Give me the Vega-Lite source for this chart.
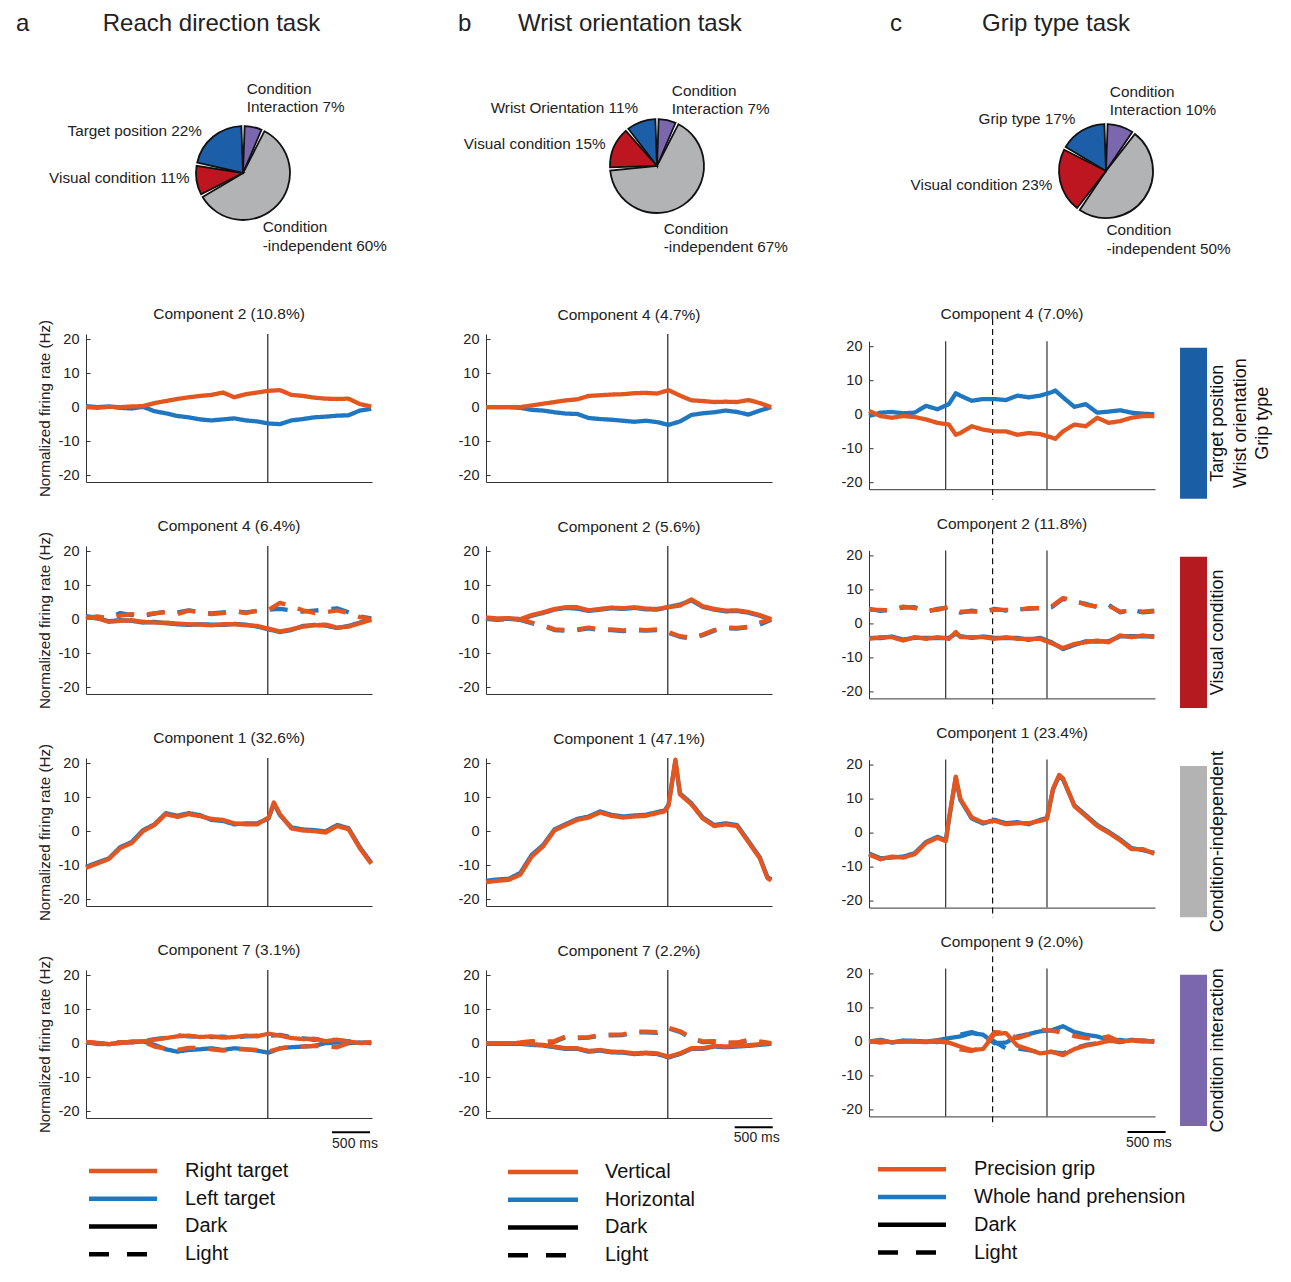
{
"$schema": "https://vega.github.io/schema/vega-lite/v6.json",
"padding": {"left": 16, "top": 12, "right": 5, "bottom": 5},
"background": "white",
"spacing": 46,
"resolve": {"scale": {"color": "independent", "strokeDash": "independent"}},
"config": {
 "font": "Liberation Sans",
 "view": {"stroke": null},
 "axis": {"grid": false, "domainColor": "#333333", "domainWidth": 1, "tickColor": "#333333", "labelColor": "#222222", "labelFontSize": 14.5, "labelFont": "Liberation Sans", "titleFont": "Liberation Sans", "titleFontSize": 15.2, "titleFontWeight": "normal", "titleColor": "#222222"},
 "axisX": {"labels": false, "ticks": false},
 "axisY": {"tickSize": -4, "labelPadding": 11, "titlePadding": 6},
 "line": {"strokeJoin": "round"},
 "title": {"font": "Liberation Sans", "fontWeight": "normal", "color": "#222222"},
 "text": {"font": "Liberation Sans"}
},
"datasets": {
"a1": [
{"s":"BD","t":0,"v":0.3},{"s":"BD","t":150,"v":0},{"s":"BD","t":300,"v":0.2},{"s":"BD","t":450,"v":-0.2},{"s":"BD","t":600,"v":-0.4},{"s":"BD","t":750,"v":0.1},{"s":"BD","t":900,"v":-1.2},{"s":"BD","t":1050,"v":-1.8},{"s":"BD","t":1200,"v":-2.6},{"s":"BD","t":1350,"v":-3.0},{"s":"BD","t":1500,"v":-3.6},{"s":"BD","t":1650,"v":-3.9},{"s":"BD","t":1800,"v":-3.6},{"s":"BD","t":1950,"v":-3.3},{"s":"BD","t":2100,"v":-3.9},{"s":"BD","t":2250,"v":-4.2},{"s":"BD","t":2400,"v":-4.8},{"s":"BD","t":2550,"v":-5.0},{"s":"BD","t":2700,"v":-3.9},{"s":"BD","t":2850,"v":-3.5},{"s":"BD","t":3000,"v":-3.0},{"s":"BD","t":3150,"v":-2.8},{"s":"BD","t":3300,"v":-2.5},{"s":"BD","t":3450,"v":-2.4},{"s":"BD","t":3600,"v":-1.0},{"s":"BD","t":3750,"v":-0.5},
{"s":"AD","t":0,"v":0},{"s":"AD","t":150,"v":-0.2},{"s":"AD","t":300,"v":0.1},{"s":"AD","t":450,"v":0},{"s":"AD","t":600,"v":0.2},{"s":"AD","t":750,"v":0.3},{"s":"AD","t":900,"v":1.2},{"s":"AD","t":1050,"v":1.8},{"s":"AD","t":1200,"v":2.4},{"s":"AD","t":1350,"v":2.9},{"s":"AD","t":1500,"v":3.3},{"s":"AD","t":1650,"v":3.6},{"s":"AD","t":1800,"v":4.3},{"s":"AD","t":1950,"v":2.9},{"s":"AD","t":2100,"v":3.8},{"s":"AD","t":2250,"v":4.3},{"s":"AD","t":2400,"v":4.8},{"s":"AD","t":2550,"v":5.0},{"s":"AD","t":2700,"v":3.6},{"s":"AD","t":2850,"v":3.3},{"s":"AD","t":3000,"v":2.8},{"s":"AD","t":3150,"v":2.5},{"s":"AD","t":3300,"v":2.4},{"s":"AD","t":3450,"v":2.5},{"s":"AD","t":3600,"v":0.9},{"s":"AD","t":3750,"v":0.2}
],
"a2": [
{"s":"BD","t":0,"v":0.8},{"s":"BD","t":150,"v":0.2},{"s":"BD","t":300,"v":-0.6},{"s":"BD","t":450,"v":-0.3},{"s":"BD","t":600,"v":-0.5},{"s":"BD","t":750,"v":-1.0},{"s":"BD","t":900,"v":-0.8},{"s":"BD","t":1050,"v":-1.2},{"s":"BD","t":1200,"v":-1.5},{"s":"BD","t":1350,"v":-1.7},{"s":"BD","t":1500,"v":-1.5},{"s":"BD","t":1650,"v":-1.6},{"s":"BD","t":1800,"v":-1.7},{"s":"BD","t":1950,"v":-1.4},{"s":"BD","t":2100,"v":-1.6},{"s":"BD","t":2250,"v":-2.2},{"s":"BD","t":2400,"v":-3.0},{"s":"BD","t":2550,"v":-3.8},{"s":"BD","t":2700,"v":-3.2},{"s":"BD","t":2850,"v":-2.0},{"s":"BD","t":3000,"v":-1.7},{"s":"BD","t":3150,"v":-1.9},{"s":"BD","t":3300,"v":-2.6},{"s":"BD","t":3450,"v":-2.0},{"s":"BD","t":3600,"v":-1.0},{"s":"BD","t":3750,"v":0},
{"s":"BL","t":0,"v":0.8},{"s":"BL","t":150,"v":0.5},{"s":"BL","t":300,"v":0.4},{"s":"BL","t":450,"v":1.8},{"s":"BL","t":600,"v":1.2},{"s":"BL","t":750,"v":1.0},{"s":"BL","t":900,"v":1.6},{"s":"BL","t":1050,"v":2.2},{"s":"BL","t":1200,"v":2.0},{"s":"BL","t":1350,"v":2.6},{"s":"BL","t":1500,"v":2.0},{"s":"BL","t":1650,"v":1.7},{"s":"BL","t":1800,"v":2.0},{"s":"BL","t":1950,"v":2.3},{"s":"BL","t":2100,"v":2.0},{"s":"BL","t":2250,"v":2.4},{"s":"BL","t":2400,"v":2.8},{"s":"BL","t":2550,"v":3.0},{"s":"BL","t":2700,"v":2.6},{"s":"BL","t":2850,"v":2.2},{"s":"BL","t":3000,"v":2.5},{"s":"BL","t":3150,"v":2.8},{"s":"BL","t":3300,"v":3.2},{"s":"BL","t":3450,"v":2.0},{"s":"BL","t":3600,"v":0.8},{"s":"BL","t":3750,"v":0.2},
{"s":"AD","t":0,"v":0.5},{"s":"AD","t":150,"v":0.3},{"s":"AD","t":300,"v":-0.8},{"s":"AD","t":450,"v":-0.5},{"s":"AD","t":600,"v":-0.3},{"s":"AD","t":750,"v":-0.8},{"s":"AD","t":900,"v":-1.0},{"s":"AD","t":1050,"v":-1.0},{"s":"AD","t":1200,"v":-1.3},{"s":"AD","t":1350,"v":-1.5},{"s":"AD","t":1500,"v":-1.6},{"s":"AD","t":1650,"v":-1.8},{"s":"AD","t":1800,"v":-1.5},{"s":"AD","t":1950,"v":-1.5},{"s":"AD","t":2100,"v":-1.8},{"s":"AD","t":2250,"v":-2.0},{"s":"AD","t":2400,"v":-2.8},{"s":"AD","t":2550,"v":-3.6},{"s":"AD","t":2700,"v":-3.0},{"s":"AD","t":2850,"v":-2.2},{"s":"AD","t":3000,"v":-1.8},{"s":"AD","t":3150,"v":-1.6},{"s":"AD","t":3300,"v":-2.5},{"s":"AD","t":3450,"v":-2.2},{"s":"AD","t":3600,"v":-1.2},{"s":"AD","t":3750,"v":-0.2},
{"s":"AL","t":0,"v":0.3},{"s":"AL","t":150,"v":0.8},{"s":"AL","t":300,"v":0.2},{"s":"AL","t":450,"v":1.0},{"s":"AL","t":600,"v":1.5},{"s":"AL","t":750,"v":1.2},{"s":"AL","t":900,"v":1.8},{"s":"AL","t":1050,"v":2.0},{"s":"AL","t":1200,"v":1.5},{"s":"AL","t":1350,"v":2.5},{"s":"AL","t":1500,"v":2.0},{"s":"AL","t":1650,"v":1.5},{"s":"AL","t":1800,"v":1.8},{"s":"AL","t":1950,"v":2.2},{"s":"AL","t":2100,"v":1.8},{"s":"AL","t":2250,"v":2.5},{"s":"AL","t":2400,"v":2.7},{"s":"AL","t":2550,"v":4.8},{"s":"AL","t":2700,"v":3.8},{"s":"AL","t":2850,"v":2.6},{"s":"AL","t":3000,"v":1.8},{"s":"AL","t":3150,"v":2.0},{"s":"AL","t":3300,"v":2.6},{"s":"AL","t":3450,"v":1.8},{"s":"AL","t":3600,"v":0.6},{"s":"AL","t":3750,"v":0}
],
"a3": [
{"s":"BD","t":0,"v":-10.5},{"s":"BD","t":150,"v":-9.2},{"s":"BD","t":300,"v":-8.0},{"s":"BD","t":450,"v":-4.7},{"s":"BD","t":600,"v":-3.2},{"s":"BD","t":750,"v":0.3},{"s":"BD","t":900,"v":2.0},{"s":"BD","t":1050,"v":5.3},{"s":"BD","t":1200,"v":4.5},{"s":"BD","t":1350,"v":5.3},{"s":"BD","t":1500,"v":4.7},{"s":"BD","t":1650,"v":3.3},{"s":"BD","t":1800,"v":3.0},{"s":"BD","t":1950,"v":2.0},{"s":"BD","t":2100,"v":2.3},{"s":"BD","t":2250,"v":2.3},{"s":"BD","t":2400,"v":3.7},{"s":"BD","t":2470,"v":8.1},{"s":"BD","t":2550,"v":4.7},{"s":"BD","t":2700,"v":1.1},{"s":"BD","t":2850,"v":0.5},{"s":"BD","t":3000,"v":0.3},{"s":"BD","t":3150,"v":-0.1},{"s":"BD","t":3300,"v":1.8},{"s":"BD","t":3450,"v":0.9},{"s":"BD","t":3600,"v":-4.7},{"s":"BD","t":3750,"v":-9.3},
{"s":"AD","t":0,"v":-10.8},{"s":"AD","t":150,"v":-9.5},{"s":"AD","t":300,"v":-8.2},{"s":"AD","t":450,"v":-5.0},{"s":"AD","t":600,"v":-3.5},{"s":"AD","t":750,"v":0.0},{"s":"AD","t":900,"v":1.8},{"s":"AD","t":1050,"v":5.0},{"s":"AD","t":1200,"v":4.2},{"s":"AD","t":1350,"v":5.0},{"s":"AD","t":1500,"v":4.4},{"s":"AD","t":1650,"v":3.6},{"s":"AD","t":1800,"v":3.3},{"s":"AD","t":1950,"v":2.3},{"s":"AD","t":2100,"v":2.0},{"s":"AD","t":2250,"v":2.0},{"s":"AD","t":2400,"v":4.0},{"s":"AD","t":2470,"v":8.4},{"s":"AD","t":2550,"v":5.0},{"s":"AD","t":2700,"v":0.8},{"s":"AD","t":2850,"v":0.2},{"s":"AD","t":3000,"v":0.0},{"s":"AD","t":3150,"v":-0.4},{"s":"AD","t":3300,"v":1.5},{"s":"AD","t":3450,"v":0.6},{"s":"AD","t":3600,"v":-5.0},{"s":"AD","t":3750,"v":-9.6}
],
"a4": [
{"s":"BD","t":0,"v":0.2},{"s":"BD","t":150,"v":0},{"s":"BD","t":300,"v":-0.3},{"s":"BD","t":450,"v":0.2},{"s":"BD","t":600,"v":0.3},{"s":"BD","t":750,"v":0.5},{"s":"BD","t":900,"v":-0.5},{"s":"BD","t":1050,"v":-1.8},{"s":"BD","t":1200,"v":-2.5},{"s":"BD","t":1350,"v":-2.0},{"s":"BD","t":1500,"v":-1.8},{"s":"BD","t":1650,"v":-1.5},{"s":"BD","t":1800,"v":-2.0},{"s":"BD","t":1950,"v":-1.5},{"s":"BD","t":2100,"v":-1.8},{"s":"BD","t":2250,"v":-2.2},{"s":"BD","t":2400,"v":-2.8},{"s":"BD","t":2550,"v":-1.5},{"s":"BD","t":2700,"v":-1.2},{"s":"BD","t":2850,"v":-1.0},{"s":"BD","t":3000,"v":-0.8},{"s":"BD","t":3150,"v":0},{"s":"BD","t":3300,"v":0.2},{"s":"BD","t":3450,"v":0},{"s":"BD","t":3600,"v":0.2},{"s":"BD","t":3750,"v":0},
{"s":"BL","t":0,"v":0.2},{"s":"BL","t":150,"v":-0.2},{"s":"BL","t":300,"v":-0.4},{"s":"BL","t":450,"v":0.2},{"s":"BL","t":600,"v":0.3},{"s":"BL","t":750,"v":0.6},{"s":"BL","t":900,"v":1.2},{"s":"BL","t":1050,"v":1.6},{"s":"BL","t":1200,"v":2.3},{"s":"BL","t":1350,"v":2.0},{"s":"BL","t":1500,"v":1.9},{"s":"BL","t":1650,"v":1.8},{"s":"BL","t":1800,"v":1.9},{"s":"BL","t":1950,"v":1.6},{"s":"BL","t":2100,"v":2.0},{"s":"BL","t":2250,"v":2.2},{"s":"BL","t":2400,"v":2.2},{"s":"BL","t":2550,"v":2.4},{"s":"BL","t":2700,"v":1.8},{"s":"BL","t":2850,"v":1.4},{"s":"BL","t":3000,"v":1.0},{"s":"BL","t":3150,"v":1.4},{"s":"BL","t":3300,"v":0.8},{"s":"BL","t":3450,"v":0.6},{"s":"BL","t":3600,"v":0.2},{"s":"BL","t":3750,"v":0},
{"s":"AD","t":0,"v":0.3},{"s":"AD","t":150,"v":0},{"s":"AD","t":300,"v":-0.3},{"s":"AD","t":450,"v":0},{"s":"AD","t":600,"v":0.5},{"s":"AD","t":750,"v":0.5},{"s":"AD","t":900,"v":1.0},{"s":"AD","t":1050,"v":1.5},{"s":"AD","t":1200,"v":2.0},{"s":"AD","t":1350,"v":2.2},{"s":"AD","t":1500,"v":1.8},{"s":"AD","t":1650,"v":2.0},{"s":"AD","t":1800,"v":1.6},{"s":"AD","t":1950,"v":1.8},{"s":"AD","t":2100,"v":2.2},{"s":"AD","t":2250,"v":2.0},{"s":"AD","t":2400,"v":2.8},{"s":"AD","t":2550,"v":2.2},{"s":"AD","t":2700,"v":1.5},{"s":"AD","t":2850,"v":1.2},{"s":"AD","t":3000,"v":1.3},{"s":"AD","t":3150,"v":0.6},{"s":"AD","t":3300,"v":1.0},{"s":"AD","t":3450,"v":0.5},{"s":"AD","t":3600,"v":0},{"s":"AD","t":3750,"v":0.3},
{"s":"AL","t":0,"v":0.4},{"s":"AL","t":150,"v":0.1},{"s":"AL","t":300,"v":-0.2},{"s":"AL","t":450,"v":0.3},{"s":"AL","t":600,"v":0.2},{"s":"AL","t":750,"v":0.4},{"s":"AL","t":900,"v":-1.0},{"s":"AL","t":1050,"v":-1.6},{"s":"AL","t":1200,"v":-2.0},{"s":"AL","t":1350,"v":-1.4},{"s":"AL","t":1500,"v":-1.4},{"s":"AL","t":1650,"v":-1.8},{"s":"AL","t":1800,"v":-2.2},{"s":"AL","t":1950,"v":-1.8},{"s":"AL","t":2100,"v":-1.8},{"s":"AL","t":2250,"v":-2.0},{"s":"AL","t":2400,"v":-2.4},{"s":"AL","t":2550,"v":-1.6},{"s":"AL","t":2700,"v":-1.0},{"s":"AL","t":2850,"v":-1.0},{"s":"AL","t":3000,"v":-0.8},{"s":"AL","t":3150,"v":-1.0},{"s":"AL","t":3300,"v":-1.2},{"s":"AL","t":3450,"v":0},{"s":"AL","t":3600,"v":0},{"s":"AL","t":3750,"v":0.2}
],
"b1": [
{"s":"BD","t":0,"v":0},{"s":"BD","t":150,"v":0},{"s":"BD","t":300,"v":0},{"s":"BD","t":450,"v":-0.2},{"s":"BD","t":600,"v":-0.8},{"s":"BD","t":750,"v":-1.0},{"s":"BD","t":900,"v":-1.5},{"s":"BD","t":1050,"v":-1.9},{"s":"BD","t":1200,"v":-2.0},{"s":"BD","t":1350,"v":-3.2},{"s":"BD","t":1500,"v":-3.5},{"s":"BD","t":1650,"v":-3.7},{"s":"BD","t":1800,"v":-4.0},{"s":"BD","t":1950,"v":-4.3},{"s":"BD","t":2100,"v":-4.0},{"s":"BD","t":2250,"v":-4.4},{"s":"BD","t":2400,"v":-5.2},{"s":"BD","t":2550,"v":-4.2},{"s":"BD","t":2700,"v":-2.3},{"s":"BD","t":2850,"v":-1.8},{"s":"BD","t":3000,"v":-1.5},{"s":"BD","t":3150,"v":-1.0},{"s":"BD","t":3300,"v":-1.4},{"s":"BD","t":3450,"v":-2.2},{"s":"BD","t":3600,"v":-1.0},{"s":"BD","t":3750,"v":0},
{"s":"AD","t":0,"v":0},{"s":"AD","t":150,"v":0},{"s":"AD","t":300,"v":0},{"s":"AD","t":450,"v":0},{"s":"AD","t":600,"v":0.5},{"s":"AD","t":750,"v":1.0},{"s":"AD","t":900,"v":1.5},{"s":"AD","t":1050,"v":2.0},{"s":"AD","t":1200,"v":2.3},{"s":"AD","t":1350,"v":3.3},{"s":"AD","t":1500,"v":3.5},{"s":"AD","t":1650,"v":3.7},{"s":"AD","t":1800,"v":3.8},{"s":"AD","t":1950,"v":4.1},{"s":"AD","t":2100,"v":4.2},{"s":"AD","t":2250,"v":4.0},{"s":"AD","t":2400,"v":5.0},{"s":"AD","t":2550,"v":3.4},{"s":"AD","t":2700,"v":2.0},{"s":"AD","t":2850,"v":1.8},{"s":"AD","t":3000,"v":1.5},{"s":"AD","t":3150,"v":1.6},{"s":"AD","t":3300,"v":1.5},{"s":"AD","t":3450,"v":2.1},{"s":"AD","t":3600,"v":1.2},{"s":"AD","t":3750,"v":0}
],
"b2": [
{"s":"BD","t":0,"v":0.3},{"s":"BD","t":150,"v":0},{"s":"BD","t":300,"v":0.1},{"s":"BD","t":450,"v":-0.2},{"s":"BD","t":600,"v":1.0},{"s":"BD","t":750,"v":1.8},{"s":"BD","t":900,"v":2.8},{"s":"BD","t":1050,"v":3.3},{"s":"BD","t":1200,"v":3.1},{"s":"BD","t":1350,"v":2.4},{"s":"BD","t":1500,"v":2.8},{"s":"BD","t":1650,"v":3.2},{"s":"BD","t":1800,"v":3.0},{"s":"BD","t":1950,"v":3.3},{"s":"BD","t":2100,"v":2.9},{"s":"BD","t":2250,"v":2.8},{"s":"BD","t":2400,"v":3.6},{"s":"BD","t":2550,"v":4.3},{"s":"BD","t":2700,"v":5.5},{"s":"BD","t":2850,"v":3.6},{"s":"BD","t":3000,"v":2.8},{"s":"BD","t":3150,"v":2.3},{"s":"BD","t":3300,"v":2.4},{"s":"BD","t":3450,"v":1.9},{"s":"BD","t":3600,"v":1.0},{"s":"BD","t":3750,"v":-0.2},
{"s":"BL","t":0,"v":0.1},{"s":"BL","t":150,"v":-0.2},{"s":"BL","t":300,"v":0},{"s":"BL","t":450,"v":-0.2},{"s":"BL","t":600,"v":-1.2},{"s":"BL","t":750,"v":-2.0},{"s":"BL","t":900,"v":-3.2},{"s":"BL","t":1050,"v":-3.4},{"s":"BL","t":1200,"v":-3.2},{"s":"BL","t":1350,"v":-2.7},{"s":"BL","t":1500,"v":-3.2},{"s":"BL","t":1650,"v":-3.2},{"s":"BL","t":1800,"v":-3.5},{"s":"BL","t":1950,"v":-3.2},{"s":"BL","t":2100,"v":-3.4},{"s":"BL","t":2250,"v":-3.2},{"s":"BL","t":2400,"v":-4.0},{"s":"BL","t":2550,"v":-5.2},{"s":"BL","t":2700,"v":-5.7},{"s":"BL","t":2850,"v":-4.7},{"s":"BL","t":3000,"v":-3.4},{"s":"BL","t":3150,"v":-2.7},{"s":"BL","t":3300,"v":-2.8},{"s":"BL","t":3450,"v":-2.4},{"s":"BL","t":3600,"v":-1.6},{"s":"BL","t":3750,"v":-0.2},
{"s":"AD","t":0,"v":0.5},{"s":"AD","t":150,"v":0.2},{"s":"AD","t":300,"v":0.3},{"s":"AD","t":450,"v":0},{"s":"AD","t":600,"v":1.2},{"s":"AD","t":750,"v":2.0},{"s":"AD","t":900,"v":3.0},{"s":"AD","t":1050,"v":3.5},{"s":"AD","t":1200,"v":3.5},{"s":"AD","t":1350,"v":2.6},{"s":"AD","t":1500,"v":3.0},{"s":"AD","t":1650,"v":3.4},{"s":"AD","t":1800,"v":3.2},{"s":"AD","t":1950,"v":3.5},{"s":"AD","t":2100,"v":3.1},{"s":"AD","t":2250,"v":3.0},{"s":"AD","t":2400,"v":3.5},{"s":"AD","t":2550,"v":4.0},{"s":"AD","t":2700,"v":5.8},{"s":"AD","t":2850,"v":3.8},{"s":"AD","t":3000,"v":3.0},{"s":"AD","t":3150,"v":2.5},{"s":"AD","t":3300,"v":2.6},{"s":"AD","t":3450,"v":2.1},{"s":"AD","t":3600,"v":1.2},{"s":"AD","t":3750,"v":0},
{"s":"AL","t":0,"v":0.3},{"s":"AL","t":150,"v":0},{"s":"AL","t":300,"v":0.2},{"s":"AL","t":450,"v":0},{"s":"AL","t":600,"v":-1.0},{"s":"AL","t":750,"v":-1.8},{"s":"AL","t":900,"v":-3.0},{"s":"AL","t":1050,"v":-3.2},{"s":"AL","t":1200,"v":-3.0},{"s":"AL","t":1350,"v":-2.5},{"s":"AL","t":1500,"v":-3.0},{"s":"AL","t":1650,"v":-3.0},{"s":"AL","t":1800,"v":-3.3},{"s":"AL","t":1950,"v":-3.0},{"s":"AL","t":2100,"v":-3.2},{"s":"AL","t":2250,"v":-3.0},{"s":"AL","t":2400,"v":-3.8},{"s":"AL","t":2550,"v":-5.0},{"s":"AL","t":2700,"v":-5.5},{"s":"AL","t":2850,"v":-4.5},{"s":"AL","t":3000,"v":-3.2},{"s":"AL","t":3150,"v":-2.5},{"s":"AL","t":3300,"v":-2.6},{"s":"AL","t":3450,"v":-2.2},{"s":"AL","t":3600,"v":-1.0},{"s":"AL","t":3750,"v":0}
],
"b3": [
{"s":"BD","t":0,"v":-14.6},{"s":"BD","t":150,"v":-14.2},{"s":"BD","t":300,"v":-14.0},{"s":"BD","t":450,"v":-12.3},{"s":"BD","t":600,"v":-7.0},{"s":"BD","t":750,"v":-4.1},{"s":"BD","t":900,"v":0.5},{"s":"BD","t":1050,"v":2.1},{"s":"BD","t":1200,"v":3.6},{"s":"BD","t":1350,"v":4.3},{"s":"BD","t":1500,"v":5.8},{"s":"BD","t":1650,"v":4.8},{"s":"BD","t":1800,"v":4.3},{"s":"BD","t":1950,"v":4.6},{"s":"BD","t":2100,"v":4.8},{"s":"BD","t":2250,"v":5.6},{"s":"BD","t":2350,"v":6.1},{"s":"BD","t":2400,"v":7.8},{"s":"BD","t":2490,"v":20.6},{"s":"BD","t":2550,"v":11.1},{"s":"BD","t":2700,"v":8.2},{"s":"BD","t":2850,"v":4.0},{"s":"BD","t":3000,"v":1.8},{"s":"BD","t":3150,"v":2.3},{"s":"BD","t":3300,"v":1.8},{"s":"BD","t":3450,"v":-2.9},{"s":"BD","t":3600,"v":-7.7},{"s":"BD","t":3700,"v":-13.5},{"s":"BD","t":3750,"v":-14.2},
{"s":"AD","t":0,"v":-15.0},{"s":"AD","t":150,"v":-14.6},{"s":"AD","t":300,"v":-14.3},{"s":"AD","t":450,"v":-12.8},{"s":"AD","t":600,"v":-7.5},{"s":"AD","t":750,"v":-4.5},{"s":"AD","t":900,"v":0.2},{"s":"AD","t":1050,"v":1.8},{"s":"AD","t":1200,"v":3.3},{"s":"AD","t":1350,"v":4.0},{"s":"AD","t":1500,"v":5.5},{"s":"AD","t":1650,"v":4.5},{"s":"AD","t":1800,"v":4.0},{"s":"AD","t":1950,"v":4.3},{"s":"AD","t":2100,"v":4.5},{"s":"AD","t":2250,"v":5.3},{"s":"AD","t":2350,"v":5.8},{"s":"AD","t":2400,"v":7.5},{"s":"AD","t":2490,"v":21.0},{"s":"AD","t":2550,"v":10.8},{"s":"AD","t":2700,"v":7.9},{"s":"AD","t":2850,"v":3.7},{"s":"AD","t":3000,"v":1.5},{"s":"AD","t":3150,"v":2.0},{"s":"AD","t":3300,"v":1.5},{"s":"AD","t":3450,"v":-3.2},{"s":"AD","t":3600,"v":-8.0},{"s":"AD","t":3700,"v":-13.8},{"s":"AD","t":3750,"v":-14.5}
],
"b4": [
{"s":"BD","t":0,"v":-0.2},{"s":"BD","t":150,"v":-0.2},{"s":"BD","t":300,"v":-0.2},{"s":"BD","t":450,"v":-0.2},{"s":"BD","t":600,"v":-0.5},{"s":"BD","t":750,"v":-0.7},{"s":"BD","t":900,"v":-1.2},{"s":"BD","t":1050,"v":-1.7},{"s":"BD","t":1200,"v":-1.7},{"s":"BD","t":1350,"v":-2.5},{"s":"BD","t":1500,"v":-2.2},{"s":"BD","t":1650,"v":-2.7},{"s":"BD","t":1800,"v":-2.8},{"s":"BD","t":1950,"v":-3.2},{"s":"BD","t":2100,"v":-3.0},{"s":"BD","t":2250,"v":-3.2},{"s":"BD","t":2400,"v":-4.2},{"s":"BD","t":2550,"v":-3.2},{"s":"BD","t":2700,"v":-1.7},{"s":"BD","t":2850,"v":-1.7},{"s":"BD","t":3000,"v":-1.0},{"s":"BD","t":3150,"v":-1.2},{"s":"BD","t":3300,"v":-1.0},{"s":"BD","t":3450,"v":-0.8},{"s":"BD","t":3600,"v":-0.5},{"s":"BD","t":3750,"v":-0.2},
{"s":"BL","t":0,"v":-0.2},{"s":"BL","t":150,"v":-0.2},{"s":"BL","t":300,"v":-0.2},{"s":"BL","t":450,"v":0},{"s":"BL","t":600,"v":0.4},{"s":"BL","t":750,"v":0.2},{"s":"BL","t":900,"v":0.4},{"s":"BL","t":1050,"v":1.8},{"s":"BL","t":1200,"v":1.5},{"s":"BL","t":1350,"v":1.6},{"s":"BL","t":1500,"v":2.2},{"s":"BL","t":1650,"v":2.3},{"s":"BL","t":1800,"v":2.4},{"s":"BL","t":1950,"v":3.1},{"s":"BL","t":2100,"v":3.2},{"s":"BL","t":2250,"v":3.0},{"s":"BL","t":2400,"v":4.3},{"s":"BL","t":2550,"v":3.3},{"s":"BL","t":2700,"v":1.4},{"s":"BL","t":2850,"v":0.3},{"s":"BL","t":3000,"v":0.4},{"s":"BL","t":3150,"v":0},{"s":"BL","t":3300,"v":0},{"s":"BL","t":3450,"v":0.8},{"s":"BL","t":3600,"v":0.3},{"s":"BL","t":3750,"v":-0.2},
{"s":"AD","t":0,"v":0},{"s":"AD","t":150,"v":0},{"s":"AD","t":300,"v":0},{"s":"AD","t":450,"v":0},{"s":"AD","t":600,"v":-0.3},{"s":"AD","t":750,"v":-0.5},{"s":"AD","t":900,"v":-1.0},{"s":"AD","t":1050,"v":-1.5},{"s":"AD","t":1200,"v":-1.5},{"s":"AD","t":1350,"v":-2.3},{"s":"AD","t":1500,"v":-2.0},{"s":"AD","t":1650,"v":-2.5},{"s":"AD","t":1800,"v":-2.6},{"s":"AD","t":1950,"v":-3.0},{"s":"AD","t":2100,"v":-2.8},{"s":"AD","t":2250,"v":-3.0},{"s":"AD","t":2400,"v":-4.0},{"s":"AD","t":2550,"v":-3.0},{"s":"AD","t":2700,"v":-1.5},{"s":"AD","t":2850,"v":-1.5},{"s":"AD","t":3000,"v":-0.8},{"s":"AD","t":3150,"v":-1.0},{"s":"AD","t":3300,"v":-0.8},{"s":"AD","t":3450,"v":-0.6},{"s":"AD","t":3600,"v":-0.3},{"s":"AD","t":3750,"v":0},
{"s":"AL","t":0,"v":0},{"s":"AL","t":150,"v":0},{"s":"AL","t":300,"v":0},{"s":"AL","t":450,"v":0.2},{"s":"AL","t":600,"v":0.6},{"s":"AL","t":750,"v":0.4},{"s":"AL","t":900,"v":0.6},{"s":"AL","t":1050,"v":2.0},{"s":"AL","t":1200,"v":1.7},{"s":"AL","t":1350,"v":1.8},{"s":"AL","t":1500,"v":2.4},{"s":"AL","t":1650,"v":2.5},{"s":"AL","t":1800,"v":2.6},{"s":"AL","t":1950,"v":3.3},{"s":"AL","t":2100,"v":3.4},{"s":"AL","t":2250,"v":3.2},{"s":"AL","t":2400,"v":4.5},{"s":"AL","t":2550,"v":3.5},{"s":"AL","t":2700,"v":1.6},{"s":"AL","t":2850,"v":0.5},{"s":"AL","t":3000,"v":0.6},{"s":"AL","t":3150,"v":0.2},{"s":"AL","t":3300,"v":0.2},{"s":"AL","t":3450,"v":1.0},{"s":"AL","t":3600,"v":0.5},{"s":"AL","t":3750,"v":0}
],
"c1": [
{"s":"BD","t":0,"v":-0.5},{"s":"BD","t":150,"v":0.5},{"s":"BD","t":300,"v":0.7},{"s":"BD","t":450,"v":0.3},{"s":"BD","t":600,"v":0.5},{"s":"BD","t":750,"v":2.5},{"s":"BD","t":900,"v":1.5},{"s":"BD","t":1050,"v":3.0},{"s":"BD","t":1141,"v":6.2},{"s":"BD","t":1200,"v":5.5},{"s":"BD","t":1350,"v":4.0},{"s":"BD","t":1500,"v":4.5},{"s":"BD","t":1650,"v":4.5},{"s":"BD","t":1800,"v":4.2},{"s":"BD","t":1950,"v":5.5},{"s":"BD","t":2100,"v":5.0},{"s":"BD","t":2250,"v":5.5},{"s":"BD","t":2400,"v":6.5},{"s":"BD","t":2449,"v":7.0},{"s":"BD","t":2550,"v":5.0},{"s":"BD","t":2700,"v":2.2},{"s":"BD","t":2850,"v":3.0},{"s":"BD","t":3000,"v":0.5},{"s":"BD","t":3150,"v":0.8},{"s":"BD","t":3300,"v":1.2},{"s":"BD","t":3450,"v":0.5},{"s":"BD","t":3600,"v":0.2},{"s":"BD","t":3750,"v":0},
{"s":"AD","t":0,"v":1.0},{"s":"AD","t":150,"v":-0.5},{"s":"AD","t":300,"v":-1.0},{"s":"AD","t":450,"v":-0.5},{"s":"AD","t":600,"v":-0.8},{"s":"AD","t":750,"v":-1.5},{"s":"AD","t":900,"v":-2.5},{"s":"AD","t":1050,"v":-3.0},{"s":"AD","t":1141,"v":-6.0},{"s":"AD","t":1200,"v":-5.5},{"s":"AD","t":1350,"v":-3.5},{"s":"AD","t":1500,"v":-4.5},{"s":"AD","t":1650,"v":-5.0},{"s":"AD","t":1800,"v":-5.0},{"s":"AD","t":1950,"v":-6.0},{"s":"AD","t":2100,"v":-5.5},{"s":"AD","t":2250,"v":-5.8},{"s":"AD","t":2400,"v":-6.8},{"s":"AD","t":2449,"v":-7.2},{"s":"AD","t":2550,"v":-5.0},{"s":"AD","t":2700,"v":-3.0},{"s":"AD","t":2850,"v":-3.5},{"s":"AD","t":3000,"v":-1.0},{"s":"AD","t":3150,"v":-2.5},{"s":"AD","t":3300,"v":-2.0},{"s":"AD","t":3450,"v":-1.0},{"s":"AD","t":3600,"v":-0.5},{"s":"AD","t":3750,"v":-0.5}
],
"c2": [
{"s":"BD","t":0,"v":-4.2},{"s":"BD","t":150,"v":-4.3},{"s":"BD","t":300,"v":-3.8},{"s":"BD","t":450,"v":-4.7},{"s":"BD","t":600,"v":-4.2},{"s":"BD","t":750,"v":-4.2},{"s":"BD","t":900,"v":-4.3},{"s":"BD","t":1050,"v":-4.2},{"s":"BD","t":1141,"v":-3.0},{"s":"BD","t":1200,"v":-3.7},{"s":"BD","t":1350,"v":-4.2},{"s":"BD","t":1500,"v":-3.8},{"s":"BD","t":1650,"v":-4.2},{"s":"BD","t":1800,"v":-4.3},{"s":"BD","t":1950,"v":-4.2},{"s":"BD","t":2100,"v":-4.8},{"s":"BD","t":2250,"v":-4.2},{"s":"BD","t":2400,"v":-5.5},{"s":"BD","t":2550,"v":-7.5},{"s":"BD","t":2700,"v":-6.3},{"s":"BD","t":2850,"v":-5.2},{"s":"BD","t":3000,"v":-5.3},{"s":"BD","t":3150,"v":-5.2},{"s":"BD","t":3300,"v":-3.8},{"s":"BD","t":3450,"v":-3.7},{"s":"BD","t":3600,"v":-3.8},{"s":"BD","t":3750,"v":-3.7},
{"s":"BL","t":0,"v":4.3},{"s":"BL","t":150,"v":3.7},{"s":"BL","t":300,"v":4.1},{"s":"BL","t":450,"v":4.7},{"s":"BL","t":600,"v":4.8},{"s":"BL","t":750,"v":3.5},{"s":"BL","t":900,"v":4.3},{"s":"BL","t":1050,"v":4.7},{"s":"BL","t":1200,"v":3.2},{"s":"BL","t":1350,"v":3.8},{"s":"BL","t":1500,"v":3.3},{"s":"BL","t":1650,"v":4.3},{"s":"BL","t":1800,"v":3.8},{"s":"BL","t":1950,"v":4.2},{"s":"BL","t":2100,"v":4.3},{"s":"BL","t":2250,"v":4.7},{"s":"BL","t":2400,"v":4.8},{"s":"BL","t":2550,"v":7.3},{"s":"BL","t":2700,"v":6.5},{"s":"BL","t":2850,"v":5.8},{"s":"BL","t":3000,"v":4.8},{"s":"BL","t":3150,"v":5.5},{"s":"BL","t":3300,"v":3.3},{"s":"BL","t":3450,"v":4.0},{"s":"BL","t":3600,"v":3.3},{"s":"BL","t":3750,"v":3.6},
{"s":"AD","t":0,"v":-4.5},{"s":"AD","t":150,"v":-4.0},{"s":"AD","t":300,"v":-4.0},{"s":"AD","t":450,"v":-5.0},{"s":"AD","t":600,"v":-4.0},{"s":"AD","t":750,"v":-4.5},{"s":"AD","t":900,"v":-4.0},{"s":"AD","t":1050,"v":-4.5},{"s":"AD","t":1141,"v":-2.5},{"s":"AD","t":1200,"v":-4.0},{"s":"AD","t":1350,"v":-4.0},{"s":"AD","t":1500,"v":-4.0},{"s":"AD","t":1650,"v":-4.5},{"s":"AD","t":1800,"v":-4.0},{"s":"AD","t":1950,"v":-4.5},{"s":"AD","t":2100,"v":-4.5},{"s":"AD","t":2250,"v":-4.5},{"s":"AD","t":2400,"v":-5.8},{"s":"AD","t":2550,"v":-7.2},{"s":"AD","t":2700,"v":-6.0},{"s":"AD","t":2850,"v":-5.5},{"s":"AD","t":3000,"v":-5.0},{"s":"AD","t":3150,"v":-5.5},{"s":"AD","t":3300,"v":-3.5},{"s":"AD","t":3450,"v":-4.0},{"s":"AD","t":3600,"v":-3.5},{"s":"AD","t":3750,"v":-4.0},
{"s":"AL","t":0,"v":4.0},{"s":"AL","t":150,"v":4.0},{"s":"AL","t":300,"v":3.8},{"s":"AL","t":450,"v":5.0},{"s":"AL","t":600,"v":4.5},{"s":"AL","t":750,"v":3.8},{"s":"AL","t":900,"v":4.0},{"s":"AL","t":1050,"v":5.0},{"s":"AL","t":1200,"v":3.5},{"s":"AL","t":1350,"v":3.5},{"s":"AL","t":1500,"v":3.5},{"s":"AL","t":1650,"v":4.0},{"s":"AL","t":1800,"v":4.0},{"s":"AL","t":1950,"v":4.0},{"s":"AL","t":2100,"v":4.5},{"s":"AL","t":2250,"v":4.5},{"s":"AL","t":2400,"v":5.0},{"s":"AL","t":2550,"v":7.5},{"s":"AL","t":2700,"v":6.8},{"s":"AL","t":2850,"v":5.5},{"s":"AL","t":3000,"v":5.0},{"s":"AL","t":3150,"v":5.2},{"s":"AL","t":3300,"v":3.5},{"s":"AL","t":3450,"v":3.8},{"s":"AL","t":3600,"v":3.5},{"s":"AL","t":3750,"v":3.8}
],
"c3": [
{"s":"BD","t":0,"v":-6.1},{"s":"BD","t":150,"v":-7.5},{"s":"BD","t":300,"v":-7.3},{"s":"BD","t":450,"v":-7.0},{"s":"BD","t":600,"v":-6.0},{"s":"BD","t":750,"v":-2.7},{"s":"BD","t":900,"v":-1.2},{"s":"BD","t":1010,"v":-2.2},{"s":"BD","t":1050,"v":3.7},{"s":"BD","t":1141,"v":16.2},{"s":"BD","t":1200,"v":9.7},{"s":"BD","t":1350,"v":4.2},{"s":"BD","t":1500,"v":2.7},{"s":"BD","t":1650,"v":3.8},{"s":"BD","t":1800,"v":2.8},{"s":"BD","t":1950,"v":3.1},{"s":"BD","t":2100,"v":2.5},{"s":"BD","t":2250,"v":3.8},{"s":"BD","t":2339,"v":4.3},{"s":"BD","t":2420,"v":12.7},{"s":"BD","t":2500,"v":16.7},{"s":"BD","t":2550,"v":15.7},{"s":"BD","t":2700,"v":8.1},{"s":"BD","t":2850,"v":5.2},{"s":"BD","t":3000,"v":2.3},{"s":"BD","t":3150,"v":0.3},{"s":"BD","t":3300,"v":-1.9},{"s":"BD","t":3450,"v":-4.5},{"s":"BD","t":3600,"v":-5.1},{"s":"BD","t":3750,"v":-5.9},
{"s":"AD","t":0,"v":-6.4},{"s":"AD","t":150,"v":-7.8},{"s":"AD","t":300,"v":-7.0},{"s":"AD","t":450,"v":-7.3},{"s":"AD","t":600,"v":-6.3},{"s":"AD","t":750,"v":-3.0},{"s":"AD","t":900,"v":-1.5},{"s":"AD","t":1010,"v":-2.5},{"s":"AD","t":1050,"v":4.0},{"s":"AD","t":1141,"v":16.5},{"s":"AD","t":1200,"v":10.0},{"s":"AD","t":1350,"v":4.5},{"s":"AD","t":1500,"v":3.0},{"s":"AD","t":1650,"v":3.5},{"s":"AD","t":1800,"v":2.5},{"s":"AD","t":1950,"v":2.8},{"s":"AD","t":2100,"v":2.8},{"s":"AD","t":2250,"v":3.5},{"s":"AD","t":2339,"v":4.0},{"s":"AD","t":2420,"v":13.0},{"s":"AD","t":2500,"v":17.0},{"s":"AD","t":2550,"v":16.0},{"s":"AD","t":2700,"v":7.8},{"s":"AD","t":2850,"v":4.9},{"s":"AD","t":3000,"v":2.0},{"s":"AD","t":3150,"v":0},{"s":"AD","t":3300,"v":-2.2},{"s":"AD","t":3450,"v":-4.8},{"s":"AD","t":3600,"v":-4.8},{"s":"AD","t":3750,"v":-6.2}
],
"c4": [
{"s":"BL","t":0,"v":0},{"s":"BL","t":150,"v":0.2},{"s":"BL","t":300,"v":0},{"s":"BL","t":450,"v":0.2},{"s":"BL","t":600,"v":0},{"s":"BL","t":750,"v":0.2},{"s":"BL","t":900,"v":-0.2},{"s":"BL","t":1050,"v":0.5},{"s":"BL","t":1200,"v":2.0},{"s":"BL","t":1350,"v":2.8},{"s":"BL","t":1500,"v":1.5},{"s":"BL","t":1650,"v":0},{"s":"BL","t":1800,"v":-2.0},{"s":"BL","t":1950,"v":-2.0},{"s":"BL","t":2100,"v":-2.5},{"s":"BL","t":2250,"v":-3.2},{"s":"BL","t":2400,"v":-3.0},{"s":"BL","t":2550,"v":-3.5},{"s":"BL","t":2700,"v":-2.0},{"s":"BL","t":2850,"v":-1.0},{"s":"BL","t":3000,"v":-0.5},{"s":"BL","t":3150,"v":0.3},{"s":"BL","t":3300,"v":0.5},{"s":"BL","t":3450,"v":0},{"s":"BL","t":3600,"v":0.3},{"s":"BL","t":3750,"v":0},
{"s":"BD","t":0,"v":0},{"s":"BD","t":150,"v":0.5},{"s":"BD","t":300,"v":-0.3},{"s":"BD","t":450,"v":0.3},{"s":"BD","t":600,"v":0.2},{"s":"BD","t":750,"v":0},{"s":"BD","t":900,"v":0.4},{"s":"BD","t":1050,"v":1.0},{"s":"BD","t":1200,"v":1.5},{"s":"BD","t":1350,"v":2.5},{"s":"BD","t":1500,"v":2.0},{"s":"BD","t":1650,"v":-0.5},{"s":"BD","t":1800,"v":-0.3},{"s":"BD","t":1950,"v":1.5},{"s":"BD","t":2100,"v":2.2},{"s":"BD","t":2250,"v":3.0},{"s":"BD","t":2400,"v":3.3},{"s":"BD","t":2550,"v":4.5},{"s":"BD","t":2700,"v":2.8},{"s":"BD","t":2850,"v":2.0},{"s":"BD","t":3000,"v":1.5},{"s":"BD","t":3150,"v":0.5},{"s":"BD","t":3300,"v":-0.2},{"s":"BD","t":3450,"v":0.5},{"s":"BD","t":3600,"v":0.2},{"s":"BD","t":3750,"v":0},
{"s":"AD","t":0,"v":0},{"s":"AD","t":150,"v":0.3},{"s":"AD","t":300,"v":-0.2},{"s":"AD","t":450,"v":0},{"s":"AD","t":600,"v":0},{"s":"AD","t":750,"v":-0.2},{"s":"AD","t":900,"v":0.3},{"s":"AD","t":1050,"v":-0.3},{"s":"AD","t":1200,"v":-1.5},{"s":"AD","t":1350,"v":-2.5},{"s":"AD","t":1500,"v":-2.2},{"s":"AD","t":1650,"v":2.2},{"s":"AD","t":1800,"v":2.5},{"s":"AD","t":1950,"v":-1.2},{"s":"AD","t":2100,"v":-2.3},{"s":"AD","t":2250,"v":-3.5},{"s":"AD","t":2400,"v":-3.0},{"s":"AD","t":2550,"v":-4.0},{"s":"AD","t":2700,"v":-2.2},{"s":"AD","t":2850,"v":-1.2},{"s":"AD","t":3000,"v":-0.6},{"s":"AD","t":3150,"v":0.2},{"s":"AD","t":3300,"v":0},{"s":"AD","t":3450,"v":0.3},{"s":"AD","t":3600,"v":0},{"s":"AD","t":3750,"v":0.2},
{"s":"AL","t":0,"v":0.2},{"s":"AL","t":150,"v":-0.3},{"s":"AL","t":300,"v":0.2},{"s":"AL","t":450,"v":0},{"s":"AL","t":600,"v":0.2},{"s":"AL","t":750,"v":0},{"s":"AL","t":900,"v":0},{"s":"AL","t":1050,"v":-0.3},{"s":"AL","t":1200,"v":-2.3},{"s":"AL","t":1350,"v":-2.8},{"s":"AL","t":1500,"v":-1.5},{"s":"AL","t":1650,"v":2.8},{"s":"AL","t":1800,"v":2.6},{"s":"AL","t":1950,"v":1.0},{"s":"AL","t":2100,"v":2.0},{"s":"AL","t":2250,"v":3.5},{"s":"AL","t":2400,"v":3.2},{"s":"AL","t":2550,"v":2.6},{"s":"AL","t":2700,"v":1.6},{"s":"AL","t":2850,"v":1.0},{"s":"AL","t":3000,"v":0.8},{"s":"AL","t":3150,"v":1.5},{"s":"AL","t":3300,"v":0},{"s":"AL","t":3450,"v":0.5},{"s":"AL","t":3600,"v":0.3},{"s":"AL","t":3750,"v":0}
]
},
"hconcat": [
{
 "title": {"text": "a\u00a0\u00a0\u00a0\u00a0\u00a0\u00a0\u00a0\u00a0\u00a0\u00a0\u00a0Reach direction task", "anchor": "start", "frame": "bounds", "dx": -21, "fontSize": 24, "offset": 35},
 "spacing": 21,
 "resolve": {"scale": {"color": "independent", "strokeDash": "independent"}},
 "vconcat": [
  {
   "width": 326, "height": 214,
   "data": {"values": [
    {"k":1,"part":"Condition interaction","pct":7,"label":"Condition\nInteraction 7%"},
    {"k":2,"part":"Condition-independent","pct":60,"label":"Condition\n-independent 60%"},
    {"k":3,"part":"Visual condition","pct":11,"label":"Visual condition 11%"},
    {"k":4,"part":"Task variable","pct":22,"label":"Target position 22%"}]},
   "encoding": {"theta": {"field":"pct","type":"quantitative","stack":true}, "order": {"field":"k","type":"quantitative"}},
   "layer": [
    {"mark": {"type":"arc","outerRadius":47,"stroke":"#111111","strokeWidth":1.8,"padAngle":0.07,"xOffset":-6,"yOffset":-5},
     "encoding": {"color": {"field":"part","type":"nominal","scale":{"domain":["Condition interaction","Condition-independent","Visual condition","Task variable"],"range":["#7a67ae","#b2b3b5","#bd1620","#1c5fa8"]},"legend":null}}},
    {"mark": {"type":"text","radius":77,"align":"left","baseline":"middle","dx":-13,"dy":-9,"fontSize":15.3,"lineHeight":18.5,"lineBreak":"\n","xOffset":-6,"yOffset":-5,"color":"#222222"},
     "encoding": {"text": {"condition": {"test":"datum.k==1","field":"label","type":"nominal"},"value":""}}},
    {"mark": {"type":"text","radius":60,"align":"left","baseline":"middle","dx":-24,"dy":13,"fontSize":15.3,"lineHeight":18.5,"lineBreak":"\n","xOffset":-6,"yOffset":-5,"color":"#222222"},
     "encoding": {"text": {"condition": {"test":"datum.k==2","field":"label","type":"nominal"},"value":""}}},
    {"mark": {"type":"text","radius":54,"align":"right","baseline":"middle","dy":-3,"fontSize":15.3,"xOffset":-6,"yOffset":-5,"color":"#222222"},
     "encoding": {"text": {"condition": {"test":"datum.k==3","field":"label","type":"nominal"},"value":""}}},
    {"mark": {"type":"text","radius":55,"align":"right","baseline":"middle","dx":-6,"fontSize":15.3,"xOffset":-6,"yOffset":-5,"color":"#222222"},
     "encoding": {"text": {"condition": {"test":"datum.k==4","field":"label","type":"nominal"},"value":""}}}
   ]
  },
  {
   "title": {"text": "Component 2 (10.8%)", "fontSize": 15.5, "offset": -3},
   "width": 286, "height": 148,
   "layer": [
    {"data": {"values": [{}]}, "mark": {"type": "rule", "color": "#222222", "strokeWidth": 1.2}, "encoding": {"x": {"datum": 2390, "type": "quantitative", "scale": {"domain": [0,3760], "nice": false}, "axis": {"title": null}}}},
    {"data": {"name": "a1"}, "mark": {"type": "line", "strokeWidth": 4.3}, "encoding": {
     "x": {"field": "t", "type": "quantitative", "scale": {"domain": [0,3760], "nice": false}, "axis": {"title": null}},
     "y": {"field": "v", "type": "quantitative", "scale": {"domain": [-22,21.5], "nice": false, "zero": false}, "axis": {"values": [-20,-10,0,10,20], "labelExpr": "'' + datum.value", "title": "Normalized firing rate (Hz)"}},
     "color": {"field": "s", "type": "nominal", "scale": {"domain": ["AD","AL","BD","BL"], "range": ["#e4561f","#e4561f","#1f77c1","#1f77c1"]}, "legend": null},
     "strokeDash": {"field": "s", "type": "nominal", "scale": {"domain": ["AD","AL","BD","BL"], "range": [[1,0],[18,13],[1,0],[18,13]]}, "legend": null}}}
   ]
  },
  {
   "title": {"text": "Component 4 (6.4%)", "fontSize": 15.5, "offset": -3},
   "width": 286, "height": 148,
   "layer": [
    {"data": {"values": [{}]}, "mark": {"type": "rule", "color": "#222222", "strokeWidth": 1.2}, "encoding": {"x": {"datum": 2390, "type": "quantitative", "scale": {"domain": [0,3760], "nice": false}, "axis": {"title": null}}}},
    {"data": {"name": "a2"}, "mark": {"type": "line", "strokeWidth": 4.3}, "encoding": {
     "x": {"field": "t", "type": "quantitative", "scale": {"domain": [0,3760], "nice": false}, "axis": {"title": null}},
     "y": {"field": "v", "type": "quantitative", "scale": {"domain": [-22,21.5], "nice": false, "zero": false}, "axis": {"values": [-20,-10,0,10,20], "labelExpr": "'' + datum.value", "title": "Normalized firing rate (Hz)"}},
     "color": {"field": "s", "type": "nominal", "scale": {"domain": ["AD","AL","BD","BL"], "range": ["#e4561f","#e4561f","#1f77c1","#1f77c1"]}, "legend": null},
     "strokeDash": {"field": "s", "type": "nominal", "scale": {"domain": ["AD","AL","BD","BL"], "range": [[1,0],[18,13],[1,0],[18,13]]}, "legend": null}}}
   ]
  },
  {
   "title": {"text": "Component 1 (32.6%)", "fontSize": 15.5, "offset": -3},
   "width": 286, "height": 148,
   "layer": [
    {"data": {"values": [{}]}, "mark": {"type": "rule", "color": "#222222", "strokeWidth": 1.2}, "encoding": {"x": {"datum": 2390, "type": "quantitative", "scale": {"domain": [0,3760], "nice": false}, "axis": {"title": null}}}},
    {"data": {"name": "a3"}, "mark": {"type": "line", "strokeWidth": 4.3}, "encoding": {
     "x": {"field": "t", "type": "quantitative", "scale": {"domain": [0,3760], "nice": false}, "axis": {"title": null}},
     "y": {"field": "v", "type": "quantitative", "scale": {"domain": [-22,21.5], "nice": false, "zero": false}, "axis": {"values": [-20,-10,0,10,20], "labelExpr": "'' + datum.value", "title": "Normalized firing rate (Hz)"}},
     "color": {"field": "s", "type": "nominal", "scale": {"domain": ["AD","AL","BD","BL"], "range": ["#e4561f","#e4561f","#1f77c1","#1f77c1"]}, "legend": null},
     "strokeDash": {"field": "s", "type": "nominal", "scale": {"domain": ["AD","AL","BD","BL"], "range": [[1,0],[18,13],[1,0],[18,13]]}, "legend": null}}}
   ]
  },
  {
   "spacing": 6,
   "resolve": {"scale": {"color": "independent", "strokeDash": "independent"}},
   "vconcat": [
    {
     "title": {"text": "Component 7 (3.1%)", "fontSize": 15.5, "offset": -3},
     "width": 286, "height": 148,
     "layer": [
      {"data": {"values": [{}]}, "mark": {"type": "rule", "color": "#222222", "strokeWidth": 1.2}, "encoding": {"x": {"datum": 2390, "type": "quantitative", "scale": {"domain": [0,3760], "nice": false}, "axis": {"title": null}}}},
      {"data": {"name": "a4"}, "mark": {"type": "line", "strokeWidth": 4.3}, "encoding": {
       "x": {"field": "t", "type": "quantitative", "scale": {"domain": [0,3760], "nice": false}, "axis": {"title": null}},
       "y": {"field": "v", "type": "quantitative", "scale": {"domain": [-22,21.5], "nice": false, "zero": false}, "axis": {"values": [-20,-10,0,10,20], "labelExpr": "'' + datum.value", "title": "Normalized firing rate (Hz)"}},
       "color": {"field": "s", "type": "nominal", "scale": {"domain": ["AD","AL","BD","BL"], "range": ["#e4561f","#e4561f","#1f77c1","#1f77c1"]}, "legend": null},
       "strokeDash": {"field": "s", "type": "nominal", "scale": {"domain": ["AD","AL","BD","BL"], "range": [[1,0],[18,13],[1,0],[18,13]]}, "legend": null}}},
      {"data": {"values": [{}]}, "mark": {"type": "rule", "color": "#000000", "strokeWidth": 2}, "encoding": {
       "x": {"datum": 3234, "type": "quantitative", "scale": {"domain": [0,3760], "nice": false}, "axis": {"title": null}},
       "x2": {"datum": 3734},
       "y": {"datum": -26.2, "type": "quantitative", "scale": {"domain": [-22,21.5], "nice": false, "zero": false}, "axis": {"values": [-20,-10,0,10,20], "labelExpr": "'' + datum.value", "title": "Normalized firing rate (Hz)"}}}},
      {"data": {"values": [{}]}, "mark": {"type": "text", "text": "500 ms", "fontSize": 14, "baseline": "middle", "color": "#222222"}, "encoding": {
       "x": {"datum": 3537, "type": "quantitative", "scale": {"domain": [0,3760], "nice": false}, "axis": {"title": null}},
       "y": {"datum": -29.6, "type": "quantitative", "scale": {"domain": [-22,21.5], "nice": false, "zero": false}, "axis": {"values": [-20,-10,0,10,20], "labelExpr": "'' + datum.value", "title": "Normalized firing rate (Hz)"}}}}
     ]
    },
    {
     "width": 260, "height": 111,
     "data": {"values": [{"item": "Right target"}, {"item": "Left target"}, {"item": "Dark"}, {"item": "Light"}]},
     "encoding": {"y": {"field": "item", "type": "nominal", "sort": null, "scale": {"type": "point", "padding": 0.5}, "axis": null}},
     "layer": [
      {"mark": {"type": "rule", "strokeWidth": 4.5}, "encoding": {
       "x": {"datum": 3, "type": "quantitative", "scale": {"domain": [0,260], "nice": false, "zero": false}, "axis": null},
       "x2": {"datum": 71},
       "color": {"field": "item", "type": "nominal", "scale": {"domain": ["Right target","Left target","Dark","Light"], "range": ["#e4561f","#1f77c1","#000000","#000000"]}, "legend": null},
       "strokeDash": {"field": "item", "type": "nominal", "scale": {"domain": ["Right target","Left target","Dark","Light"], "range": [[1,0],[1,0],[1,0],[20,18]]}, "legend": null}}},
      {"mark": {"type": "text", "align": "left", "baseline": "middle", "fontSize": 20, "color": "#111111"}, "encoding": {
       "x": {"datum": 99, "type": "quantitative", "scale": {"domain": [0,260], "nice": false, "zero": false}, "axis": null},
       "text": {"field": "item", "type": "nominal"}}}
     ]
    }
   ]
  }
 ]
},
{
 "title": {"text": "b\u00a0\u00a0\u00a0\u00a0\u00a0\u00a0\u00a0Wrist orientation task", "anchor": "start", "frame": "bounds", "dx": 0, "fontSize": 24, "offset": 35},
 "spacing": 36,
 "resolve": {"scale": {"color": "independent", "strokeDash": "independent"}},
 "vconcat": [
  {
   "width": 309, "height": 200,
   "data": {"values": [
    {"k":1,"part":"Condition interaction","pct":7,"label":"Condition\nInteraction 7%"},
    {"k":2,"part":"Condition-independent","pct":67,"label":"Condition\n-independent 67%"},
    {"k":3,"part":"Visual condition","pct":15,"label":"Visual condition 15%"},
    {"k":4,"part":"Task variable","pct":11,"label":"Wrist Orientation 11%"}]},
   "encoding": {"theta": {"field":"pct","type":"quantitative","stack":true}, "order": {"field":"k","type":"quantitative"}},
   "layer": [
    {"mark": {"type":"arc","outerRadius":47,"stroke":"#111111","strokeWidth":1.8,"padAngle":0.07,"xOffset":16.5,"yOffset":-5},
     "encoding": {"color": {"field":"part","type":"nominal","scale":{"domain":["Condition interaction","Condition-independent","Visual condition","Task variable"],"range":["#7a67ae","#b2b3b5","#bd1620","#1c5fa8"]},"legend":null}}},
    {"mark": {"type":"text","radius":68,"align":"left","baseline":"middle","dy":-9,"fontSize":15.3,"lineHeight":18.5,"lineBreak":"\n","xOffset":16.5,"yOffset":-5,"color":"#222222"},
     "encoding": {"text": {"condition": {"test":"datum.k==1","field":"label","type":"nominal"},"value":""}}},
    {"mark": {"type":"text","radius":60,"align":"left","baseline":"middle","dx":-27,"dy":13,"fontSize":15.3,"lineHeight":18.5,"lineBreak":"\n","xOffset":16.5,"yOffset":-5,"color":"#222222"},
     "encoding": {"text": {"condition": {"test":"datum.k==2","field":"label","type":"nominal"},"value":""}}},
    {"mark": {"type":"text","radius":56,"align":"right","baseline":"middle","fontSize":15.3,"xOffset":16.5,"yOffset":-5,"color":"#222222"},
     "encoding": {"text": {"condition": {"test":"datum.k==3","field":"label","type":"nominal"},"value":""}}},
    {"mark": {"type":"text","radius":62,"align":"right","baseline":"middle","dx":2,"fontSize":15.3,"xOffset":16.5,"yOffset":-5,"color":"#222222"},
     "encoding": {"text": {"condition": {"test":"datum.k==4","field":"label","type":"nominal"},"value":""}}}
   ]
  },
  {
   "title": {"text": "Component 4 (4.7%)", "fontSize": 15.5, "offset": 8},
   "width": 286, "height": 148,
   "layer": [
    {"data": {"values": [{}]}, "mark": {"type": "rule", "color": "#222222", "strokeWidth": 1.2}, "encoding": {"x": {"datum": 2390, "type": "quantitative", "scale": {"domain": [0,3760], "nice": false}, "axis": {"title": null}}}},
    {"data": {"name": "b1"}, "mark": {"type": "line", "strokeWidth": 4.3}, "encoding": {
     "x": {"field": "t", "type": "quantitative", "scale": {"domain": [0,3760], "nice": false}, "axis": {"title": null}},
     "y": {"field": "v", "type": "quantitative", "scale": {"domain": [-22,21.5], "nice": false, "zero": false}, "axis": {"values": [-20,-10,0,10,20], "labelExpr": "'' + datum.value", "title": null}},
     "color": {"field": "s", "type": "nominal", "scale": {"domain": ["AD","AL","BD","BL"], "range": ["#e4561f","#e4561f","#1f77c1","#1f77c1"]}, "legend": null},
     "strokeDash": {"field": "s", "type": "nominal", "scale": {"domain": ["AD","AL","BD","BL"], "range": [[1,0],[18,13],[1,0],[18,13]]}, "legend": null}}}
   ]
  },
  {
   "title": {"text": "Component 2 (5.6%)", "fontSize": 15.5, "offset": 8},
   "width": 286, "height": 148,
   "layer": [
    {"data": {"values": [{}]}, "mark": {"type": "rule", "color": "#222222", "strokeWidth": 1.2}, "encoding": {"x": {"datum": 2390, "type": "quantitative", "scale": {"domain": [0,3760], "nice": false}, "axis": {"title": null}}}},
    {"data": {"name": "b2"}, "mark": {"type": "line", "strokeWidth": 4.3}, "encoding": {
     "x": {"field": "t", "type": "quantitative", "scale": {"domain": [0,3760], "nice": false}, "axis": {"title": null}},
     "y": {"field": "v", "type": "quantitative", "scale": {"domain": [-22,21.5], "nice": false, "zero": false}, "axis": {"values": [-20,-10,0,10,20], "labelExpr": "'' + datum.value", "title": null}},
     "color": {"field": "s", "type": "nominal", "scale": {"domain": ["AD","AL","BD","BL"], "range": ["#e4561f","#e4561f","#1f77c1","#1f77c1"]}, "legend": null},
     "strokeDash": {"field": "s", "type": "nominal", "scale": {"domain": ["AD","AL","BD","BL"], "range": [[1,0],[18,13],[1,0],[18,13]]}, "legend": null}}}
   ]
  },
  {
   "title": {"text": "Component 1 (47.1%)", "fontSize": 15.5, "offset": 8},
   "width": 286, "height": 148,
   "layer": [
    {"data": {"values": [{}]}, "mark": {"type": "rule", "color": "#222222", "strokeWidth": 1.2}, "encoding": {"x": {"datum": 2390, "type": "quantitative", "scale": {"domain": [0,3760], "nice": false}, "axis": {"title": null}}}},
    {"data": {"name": "b3"}, "mark": {"type": "line", "strokeWidth": 4.3}, "encoding": {
     "x": {"field": "t", "type": "quantitative", "scale": {"domain": [0,3760], "nice": false}, "axis": {"title": null}},
     "y": {"field": "v", "type": "quantitative", "scale": {"domain": [-22,21.5], "nice": false, "zero": false}, "axis": {"values": [-20,-10,0,10,20], "labelExpr": "'' + datum.value", "title": null}},
     "color": {"field": "s", "type": "nominal", "scale": {"domain": ["AD","AL","BD","BL"], "range": ["#e4561f","#e4561f","#1f77c1","#1f77c1"]}, "legend": null},
     "strokeDash": {"field": "s", "type": "nominal", "scale": {"domain": ["AD","AL","BD","BL"], "range": [[1,0],[18,13],[1,0],[18,13]]}, "legend": null}}}
   ]
  },
  {
   "spacing": 13,
   "resolve": {"scale": {"color": "independent", "strokeDash": "independent"}},
   "vconcat": [
    {
     "title": {"text": "Component 7 (2.2%)", "fontSize": 15.5, "offset": 8},
     "width": 286, "height": 148,
     "layer": [
      {"data": {"values": [{}]}, "mark": {"type": "rule", "color": "#222222", "strokeWidth": 1.2}, "encoding": {"x": {"datum": 2390, "type": "quantitative", "scale": {"domain": [0,3760], "nice": false}, "axis": {"title": null}}}},
      {"data": {"name": "b4"}, "mark": {"type": "line", "strokeWidth": 4.3}, "encoding": {
       "x": {"field": "t", "type": "quantitative", "scale": {"domain": [0,3760], "nice": false}, "axis": {"title": null}},
       "y": {"field": "v", "type": "quantitative", "scale": {"domain": [-22,21.5], "nice": false, "zero": false}, "axis": {"values": [-20,-10,0,10,20], "labelExpr": "'' + datum.value", "title": null}},
       "color": {"field": "s", "type": "nominal", "scale": {"domain": ["AD","AL","BD","BL"], "range": ["#e4561f","#e4561f","#1f77c1","#1f77c1"]}, "legend": null},
       "strokeDash": {"field": "s", "type": "nominal", "scale": {"domain": ["AD","AL","BD","BL"], "range": [[1,0],[18,13],[1,0],[18,13]]}, "legend": null}}},
      {"data": {"values": [{}]}, "mark": {"type": "rule", "color": "#000000", "strokeWidth": 2}, "encoding": {
       "x": {"datum": 3270, "type": "quantitative", "scale": {"domain": [0,3760], "nice": false}, "axis": {"title": null}},
       "x2": {"datum": 3770},
       "y": {"datum": -24.7, "type": "quantitative", "scale": {"domain": [-22,21.5], "nice": false, "zero": false}, "axis": {"values": [-20,-10,0,10,20], "labelExpr": "'' + datum.value", "title": null}}}},
      {"data": {"values": [{}]}, "mark": {"type": "text", "text": "500 ms", "fontSize": 14, "baseline": "middle", "color": "#222222"}, "encoding": {
       "x": {"datum": 3560, "type": "quantitative", "scale": {"domain": [0,3760], "nice": false}, "axis": {"title": null}},
       "y": {"datum": -27.8, "type": "quantitative", "scale": {"domain": [-22,21.5], "nice": false, "zero": false}, "axis": {"values": [-20,-10,0,10,20], "labelExpr": "'' + datum.value", "title": null}}}}
     ]
    },
    {
     "width": 300, "height": 111,
     "data": {"values": [{"item": "Vertical"}, {"item": "Horizontal"}, {"item": "Dark"}, {"item": "Light"}]},
     "encoding": {"y": {"field": "item", "type": "nominal", "sort": null, "scale": {"type": "point", "padding": 0.5}, "axis": null}},
     "layer": [
      {"mark": {"type": "rule", "strokeWidth": 4.5}, "encoding": {
       "x": {"datum": 22, "type": "quantitative", "scale": {"domain": [0,300], "nice": false, "zero": false}, "axis": null},
       "x2": {"datum": 92},
       "color": {"field": "item", "type": "nominal", "scale": {"domain": ["Vertical","Horizontal","Dark","Light"], "range": ["#e4561f","#1f77c1","#000000","#000000"]}, "legend": null},
       "strokeDash": {"field": "item", "type": "nominal", "scale": {"domain": ["Vertical","Horizontal","Dark","Light"], "range": [[1,0],[1,0],[1,0],[20,18]]}, "legend": null}}},
      {"mark": {"type": "text", "align": "left", "baseline": "middle", "fontSize": 20, "color": "#111111"}, "encoding": {
       "x": {"datum": 119, "type": "quantitative", "scale": {"domain": [0,300], "nice": false, "zero": false}, "axis": null},
       "text": {"field": "item", "type": "nominal"}}}
     ]
    }
   ]
  }
 ]
},
{
 "title": {"text": "c\u00a0\u00a0\u00a0\u00a0\u00a0\u00a0\u00a0\u00a0\u00a0\u00a0\u00a0\u00a0Grip type task", "anchor": "start", "frame": "bounds", "dx": 49, "fontSize": 24, "offset": 35},
 "spacing": 16.2,
 "resolve": {"scale": {"color": "independent", "strokeDash": "independent"}},
 "vconcat": [
  {
   "width": 400, "height": 219.3,
   "data": {"values": [
    {"k":1,"part":"Condition interaction","pct":10,"label":"Condition\nInteraction 10%"},
    {"k":2,"part":"Condition-independent","pct":50,"label":"Condition\n-independent 50%"},
    {"k":3,"part":"Visual condition","pct":23,"label":"Visual condition 23%"},
    {"k":4,"part":"Task variable","pct":17,"label":"Grip type 17%"}]},
   "encoding": {"theta": {"field":"pct","type":"quantitative","stack":true}, "order": {"field":"k","type":"quantitative"}},
   "layer": [
    {"mark": {"type":"arc","outerRadius":47,"stroke":"#111111","strokeWidth":1.8,"padAngle":0.07,"xOffset":37,"yOffset":-9.65},
     "encoding": {"color": {"field":"part","type":"nominal","scale":{"domain":["Condition interaction","Condition-independent","Visual condition","Task variable"],"range":["#7a67ae","#b2b3b5","#bd1620","#1c5fa8"]},"legend":null}}},
    {"mark": {"type":"text","radius":74,"align":"left","baseline":"middle","dx":-19,"dy":-9,"fontSize":15.3,"lineHeight":18.5,"lineBreak":"\n","xOffset":37,"yOffset":-9.65,"color":"#222222"},
     "encoding": {"text": {"condition": {"test":"datum.k==1","field":"label","type":"nominal"},"value":""}}},
    {"mark": {"type":"text","radius":60,"align":"left","baseline":"middle","dx":-48,"dy":24,"fontSize":15.3,"lineHeight":18.5,"lineBreak":"\n","xOffset":37,"yOffset":-9.65,"color":"#222222"},
     "encoding": {"text": {"condition": {"test":"datum.k==2","field":"label","type":"nominal"},"value":""}}},
    {"mark": {"type":"text","radius":55,"align":"right","baseline":"middle","dy":2,"fontSize":15.3,"xOffset":37,"yOffset":-9.65,"color":"#222222"},
     "encoding": {"text": {"condition": {"test":"datum.k==3","field":"label","type":"nominal"},"value":""}}},
    {"mark": {"type":"text","radius":60,"align":"right","baseline":"middle","fontSize":15.3,"xOffset":37,"yOffset":-9.65,"color":"#222222"},
     "encoding": {"text": {"condition": {"test":"datum.k==4","field":"label","type":"nominal"},"value":""}}}
   ]
  },
  {
   "title": {"text": "Component 4 (7.0%)", "fontSize": 15.5, "offset": -4.5},
   "width": 286, "height": 148,
   "layer": [
    {"data": {"values": [{}]}, "mark": {"type": "rule", "color": "#333333", "strokeWidth": 1.2}, "encoding": {"x": {"datum": 1008, "type": "quantitative", "scale": {"domain": [0,3760], "nice": false}, "axis": {"title": null}}}},
    {"data": {"values": [{}]}, "mark": {"type": "rule", "color": "#333333", "strokeWidth": 1.2}, "encoding": {"x": {"datum": 2340, "type": "quantitative", "scale": {"domain": [0,3760], "nice": false}, "axis": {"title": null}}}},
    {"data": {"values": [{}]}, "mark": {"type": "rule", "color": "#111111", "strokeWidth": 1.2, "strokeDash": [6,4]}, "encoding": {
     "x": {"datum": 1625, "type": "quantitative", "scale": {"domain": [0,3760], "nice": false}, "axis": {"title": null}},
     "y": {"datum": 28, "type": "quantitative", "scale": {"domain": [-22,21.5], "nice": false, "zero": false}, "axis": {"values": [-20,-10,0,10,20], "labelExpr": "'' + datum.value", "title": null}},
     "y2": {"datum": -25}}},
    {"data": {"name": "c1"}, "mark": {"type": "line", "strokeWidth": 4.3}, "encoding": {
     "x": {"field": "t", "type": "quantitative", "scale": {"domain": [0,3760], "nice": false}, "axis": {"title": null}},
     "y": {"field": "v", "type": "quantitative", "scale": {"domain": [-22,21.5], "nice": false, "zero": false}, "axis": {"values": [-20,-10,0,10,20], "labelExpr": "'' + datum.value", "title": null}},
     "color": {"field": "s", "type": "nominal", "scale": {"domain": ["AD","AL","BD","BL"], "range": ["#e4561f","#e4561f","#1f77c1","#1f77c1"]}, "legend": null},
     "strokeDash": {"field": "s", "type": "nominal", "scale": {"domain": ["AD","AL","BD","BL"], "range": [[1,0],[18,13],[1,0],[18,13]]}, "legend": null}}},
    {"data": {"values": [{}]}, "mark": {"type": "rect", "color": "#1a5fa6"}, "encoding": {
     "x": {"datum": 4089, "type": "quantitative", "scale": {"domain": [0,3760], "nice": false}, "axis": {"title": null}},
     "x2": {"datum": 4444},
     "y": {"datum": 19.6, "type": "quantitative", "scale": {"domain": [-22,21.5], "nice": false, "zero": false}, "axis": {"values": [-20,-10,0,10,20], "labelExpr": "'' + datum.value", "title": null}},
     "y2": {"datum": -24.8}}},
    {"data": {"values": [{}]}, "mark": {"type": "text", "text": ["Target position", "Wrist orientation", "Grip type"], "angle": 270, "align": "center", "baseline": "middle", "fontSize": 18, "lineHeight": 22.5, "color": "#111111"}, "encoding": {
     "x": {"datum": 4589, "type": "quantitative", "scale": {"domain": [0,3760], "nice": false}, "axis": {"title": null}},
     "y": {"datum": -2.6, "type": "quantitative", "scale": {"domain": [-22,21.5], "nice": false, "zero": false}, "axis": {"values": [-20,-10,0,10,20], "labelExpr": "'' + datum.value", "title": null}}}}
   ]
  },
  {
   "title": {"text": "Component 2 (11.8%)", "fontSize": 15.5, "offset": -4.5},
   "width": 286, "height": 148,
   "layer": [
    {"data": {"values": [{}]}, "mark": {"type": "rule", "color": "#333333", "strokeWidth": 1.2}, "encoding": {"x": {"datum": 1008, "type": "quantitative", "scale": {"domain": [0,3760], "nice": false}, "axis": {"title": null}}}},
    {"data": {"values": [{}]}, "mark": {"type": "rule", "color": "#333333", "strokeWidth": 1.2}, "encoding": {"x": {"datum": 2340, "type": "quantitative", "scale": {"domain": [0,3760], "nice": false}, "axis": {"title": null}}}},
    {"data": {"values": [{}]}, "mark": {"type": "rule", "color": "#111111", "strokeWidth": 1.2, "strokeDash": [6,4]}, "encoding": {
     "x": {"datum": 1625, "type": "quantitative", "scale": {"domain": [0,3760], "nice": false}, "axis": {"title": null}},
     "y": {"datum": 28, "type": "quantitative", "scale": {"domain": [-22,21.5], "nice": false, "zero": false}, "axis": {"values": [-20,-10,0,10,20], "labelExpr": "'' + datum.value", "title": null}},
     "y2": {"datum": -25}}},
    {"data": {"name": "c2"}, "mark": {"type": "line", "strokeWidth": 4.3}, "encoding": {
     "x": {"field": "t", "type": "quantitative", "scale": {"domain": [0,3760], "nice": false}, "axis": {"title": null}},
     "y": {"field": "v", "type": "quantitative", "scale": {"domain": [-22,21.5], "nice": false, "zero": false}, "axis": {"values": [-20,-10,0,10,20], "labelExpr": "'' + datum.value", "title": null}},
     "color": {"field": "s", "type": "nominal", "scale": {"domain": ["AD","AL","BD","BL"], "range": ["#e4561f","#e4561f","#1f77c1","#1f77c1"]}, "legend": null},
     "strokeDash": {"field": "s", "type": "nominal", "scale": {"domain": ["AD","AL","BD","BL"], "range": [[1,0],[18,13],[1,0],[18,13]]}, "legend": null}}},
    {"data": {"values": [{}]}, "mark": {"type": "rect", "color": "#b51a21"}, "encoding": {
     "x": {"datum": 4089, "type": "quantitative", "scale": {"domain": [0,3760], "nice": false}, "axis": {"title": null}},
     "x2": {"datum": 4444},
     "y": {"datum": 19.6, "type": "quantitative", "scale": {"domain": [-22,21.5], "nice": false, "zero": false}, "axis": {"values": [-20,-10,0,10,20], "labelExpr": "'' + datum.value", "title": null}},
     "y2": {"datum": -24.8}}},
    {"data": {"values": [{}]}, "mark": {"type": "text", "text": "Visual condition", "angle": 270, "align": "center", "baseline": "middle", "fontSize": 18, "color": "#111111"}, "encoding": {
     "x": {"datum": 4589, "type": "quantitative", "scale": {"domain": [0,3760], "nice": false}, "axis": {"title": null}},
     "y": {"datum": -2.6, "type": "quantitative", "scale": {"domain": [-22,21.5], "nice": false, "zero": false}, "axis": {"values": [-20,-10,0,10,20], "labelExpr": "'' + datum.value", "title": null}}}}
   ]
  },
  {
   "spacing": 1.8,
   "resolve": {"scale": {"color": "independent", "strokeDash": "independent"}},
   "vconcat": [
    {
     "title": {"text": "Component 1 (23.4%)", "fontSize": 15.5, "offset": -4.5},
     "width": 286, "height": 148,
     "layer": [
      {"data": {"values": [{}]}, "mark": {"type": "rule", "color": "#333333", "strokeWidth": 1.2}, "encoding": {"x": {"datum": 1008, "type": "quantitative", "scale": {"domain": [0,3760], "nice": false}, "axis": {"title": null}}}},
      {"data": {"values": [{}]}, "mark": {"type": "rule", "color": "#333333", "strokeWidth": 1.2}, "encoding": {"x": {"datum": 2340, "type": "quantitative", "scale": {"domain": [0,3760], "nice": false}, "axis": {"title": null}}}},
      {"data": {"values": [{}]}, "mark": {"type": "rule", "color": "#111111", "strokeWidth": 1.2, "strokeDash": [6,4]}, "encoding": {
       "x": {"datum": 1625, "type": "quantitative", "scale": {"domain": [0,3760], "nice": false}, "axis": {"title": null}},
       "y": {"datum": 28, "type": "quantitative", "scale": {"domain": [-22,21.5], "nice": false, "zero": false}, "axis": {"values": [-20,-10,0,10,20], "labelExpr": "'' + datum.value", "title": null}},
       "y2": {"datum": -25}}},
      {"data": {"name": "c3"}, "mark": {"type": "line", "strokeWidth": 4.3}, "encoding": {
       "x": {"field": "t", "type": "quantitative", "scale": {"domain": [0,3760], "nice": false}, "axis": {"title": null}},
       "y": {"field": "v", "type": "quantitative", "scale": {"domain": [-22,21.5], "nice": false, "zero": false}, "axis": {"values": [-20,-10,0,10,20], "labelExpr": "'' + datum.value", "title": null}},
       "color": {"field": "s", "type": "nominal", "scale": {"domain": ["AD","AL","BD","BL"], "range": ["#e4561f","#e4561f","#1f77c1","#1f77c1"]}, "legend": null},
       "strokeDash": {"field": "s", "type": "nominal", "scale": {"domain": ["AD","AL","BD","BL"], "range": [[1,0],[18,13],[1,0],[18,13]]}, "legend": null}}},
      {"data": {"values": [{}]}, "mark": {"type": "rect", "color": "#b3b3b3"}, "encoding": {
       "x": {"datum": 4089, "type": "quantitative", "scale": {"domain": [0,3760], "nice": false}, "axis": {"title": null}},
       "x2": {"datum": 4444},
       "y": {"datum": 19.6, "type": "quantitative", "scale": {"domain": [-22,21.5], "nice": false, "zero": false}, "axis": {"values": [-20,-10,0,10,20], "labelExpr": "'' + datum.value", "title": null}},
       "y2": {"datum": -24.8}}},
      {"data": {"values": [{}]}, "mark": {"type": "text", "text": "Condition-independent", "angle": 270, "align": "center", "baseline": "middle", "fontSize": 18, "color": "#111111"}, "encoding": {
       "x": {"datum": 4589, "type": "quantitative", "scale": {"domain": [0,3760], "nice": false}, "axis": {"title": null}},
       "y": {"datum": -2.6, "type": "quantitative", "scale": {"domain": [-22,21.5], "nice": false, "zero": false}, "axis": {"values": [-20,-10,0,10,20], "labelExpr": "'' + datum.value", "title": null}}}}
     ]
    },
    {
     "spacing": 5,
     "resolve": {"scale": {"color": "independent", "strokeDash": "independent"}},
     "vconcat": [
      {
       "title": {"text": "Component 9 (2.0%)", "fontSize": 15.5, "offset": -4.5},
       "width": 286, "height": 148,
       "layer": [
        {"data": {"values": [{}]}, "mark": {"type": "rule", "color": "#333333", "strokeWidth": 1.2}, "encoding": {"x": {"datum": 1008, "type": "quantitative", "scale": {"domain": [0,3760], "nice": false}, "axis": {"title": null}}}},
        {"data": {"values": [{}]}, "mark": {"type": "rule", "color": "#333333", "strokeWidth": 1.2}, "encoding": {"x": {"datum": 2340, "type": "quantitative", "scale": {"domain": [0,3760], "nice": false}, "axis": {"title": null}}}},
        {"data": {"values": [{}]}, "mark": {"type": "rule", "color": "#111111", "strokeWidth": 1.2, "strokeDash": [6,4]}, "encoding": {
         "x": {"datum": 1625, "type": "quantitative", "scale": {"domain": [0,3760], "nice": false}, "axis": {"title": null}},
         "y": {"datum": 28, "type": "quantitative", "scale": {"domain": [-22,21.5], "nice": false, "zero": false}, "axis": {"values": [-20,-10,0,10,20], "labelExpr": "'' + datum.value", "title": null}},
         "y2": {"datum": -25}}},
        {"data": {"name": "c4"}, "mark": {"type": "line", "strokeWidth": 4.3}, "encoding": {
         "x": {"field": "t", "type": "quantitative", "scale": {"domain": [0,3760], "nice": false}, "axis": {"title": null}},
         "y": {"field": "v", "type": "quantitative", "scale": {"domain": [-22,21.5], "nice": false, "zero": false}, "axis": {"values": [-20,-10,0,10,20], "labelExpr": "'' + datum.value", "title": null}},
         "color": {"field": "s", "type": "nominal", "scale": {"domain": ["AD","AL","BD","BL"], "range": ["#e4561f","#e4561f","#1f77c1","#1f77c1"]}, "legend": null},
         "strokeDash": {"field": "s", "type": "nominal", "scale": {"domain": ["AD","AL","BD","BL"], "range": [[1,0],[18,13],[1,0],[18,13]]}, "legend": null}}},
        {"data": {"values": [{}]}, "mark": {"type": "rect", "color": "#7a67ae"}, "encoding": {
         "x": {"datum": 4089, "type": "quantitative", "scale": {"domain": [0,3760], "nice": false}, "axis": {"title": null}},
         "x2": {"datum": 4444},
         "y": {"datum": 19.6, "type": "quantitative", "scale": {"domain": [-22,21.5], "nice": false, "zero": false}, "axis": {"values": [-20,-10,0,10,20], "labelExpr": "'' + datum.value", "title": null}},
         "y2": {"datum": -24.8}}},
        {"data": {"values": [{}]}, "mark": {"type": "text", "text": "Condition interaction", "angle": 270, "align": "center", "baseline": "middle", "fontSize": 18, "color": "#111111"}, "encoding": {
         "x": {"datum": 4589, "type": "quantitative", "scale": {"domain": [0,3760], "nice": false}, "axis": {"title": null}},
         "y": {"datum": -2.6, "type": "quantitative", "scale": {"domain": [-22,21.5], "nice": false, "zero": false}, "axis": {"values": [-20,-10,0,10,20], "labelExpr": "'' + datum.value", "title": null}}}},
        {"data": {"values": [{}]}, "mark": {"type": "rule", "color": "#000000", "strokeWidth": 2}, "encoding": {
         "x": {"datum": 3400, "type": "quantitative", "scale": {"domain": [0,3760], "nice": false}, "axis": {"title": null}},
         "x2": {"datum": 3900},
         "y": {"datum": -26.6, "type": "quantitative", "scale": {"domain": [-22,21.5], "nice": false, "zero": false}, "axis": {"values": [-20,-10,0,10,20], "labelExpr": "'' + datum.value", "title": null}}}},
        {"data": {"values": [{}]}, "mark": {"type": "text", "text": "500 ms", "fontSize": 14, "baseline": "middle", "color": "#222222"}, "encoding": {
         "x": {"datum": 3680, "type": "quantitative", "scale": {"domain": [0,3760], "nice": false}, "axis": {"title": null}},
         "y": {"datum": -29.8, "type": "quantitative", "scale": {"domain": [-22,21.5], "nice": false, "zero": false}, "axis": {"values": [-20,-10,0,10,20], "labelExpr": "'' + datum.value", "title": null}}}}
       ]
      },
      {
       "width": 260, "height": 111,
       "data": {"values": [{"item": "Precision grip"}, {"item": "Whole hand prehension"}, {"item": "Dark"}, {"item": "Light"}]},
       "encoding": {"y": {"field": "item", "type": "nominal", "sort": null, "scale": {"type": "point", "padding": 0.5}, "axis": null}},
       "layer": [
        {"mark": {"type": "rule", "strokeWidth": 4.5}, "encoding": {
         "x": {"datum": 9, "type": "quantitative", "scale": {"domain": [0,260], "nice": false, "zero": false}, "axis": null},
         "x2": {"datum": 77},
         "color": {"field": "item", "type": "nominal", "scale": {"domain": ["Precision grip","Whole hand prehension","Dark","Light"], "range": ["#e4561f","#1f77c1","#000000","#000000"]}, "legend": null},
         "strokeDash": {"field": "item", "type": "nominal", "scale": {"domain": ["Precision grip","Whole hand prehension","Dark","Light"], "range": [[1,0],[1,0],[1,0],[20,18]]}, "legend": null}}},
        {"mark": {"type": "text", "align": "left", "baseline": "middle", "fontSize": 20, "color": "#111111"}, "encoding": {
         "x": {"datum": 105, "type": "quantitative", "scale": {"domain": [0,260], "nice": false, "zero": false}, "axis": null},
         "text": {"field": "item", "type": "nominal"}}}
       ]
      }
     ]
    }
   ]
  }
 ]
}
]
}
